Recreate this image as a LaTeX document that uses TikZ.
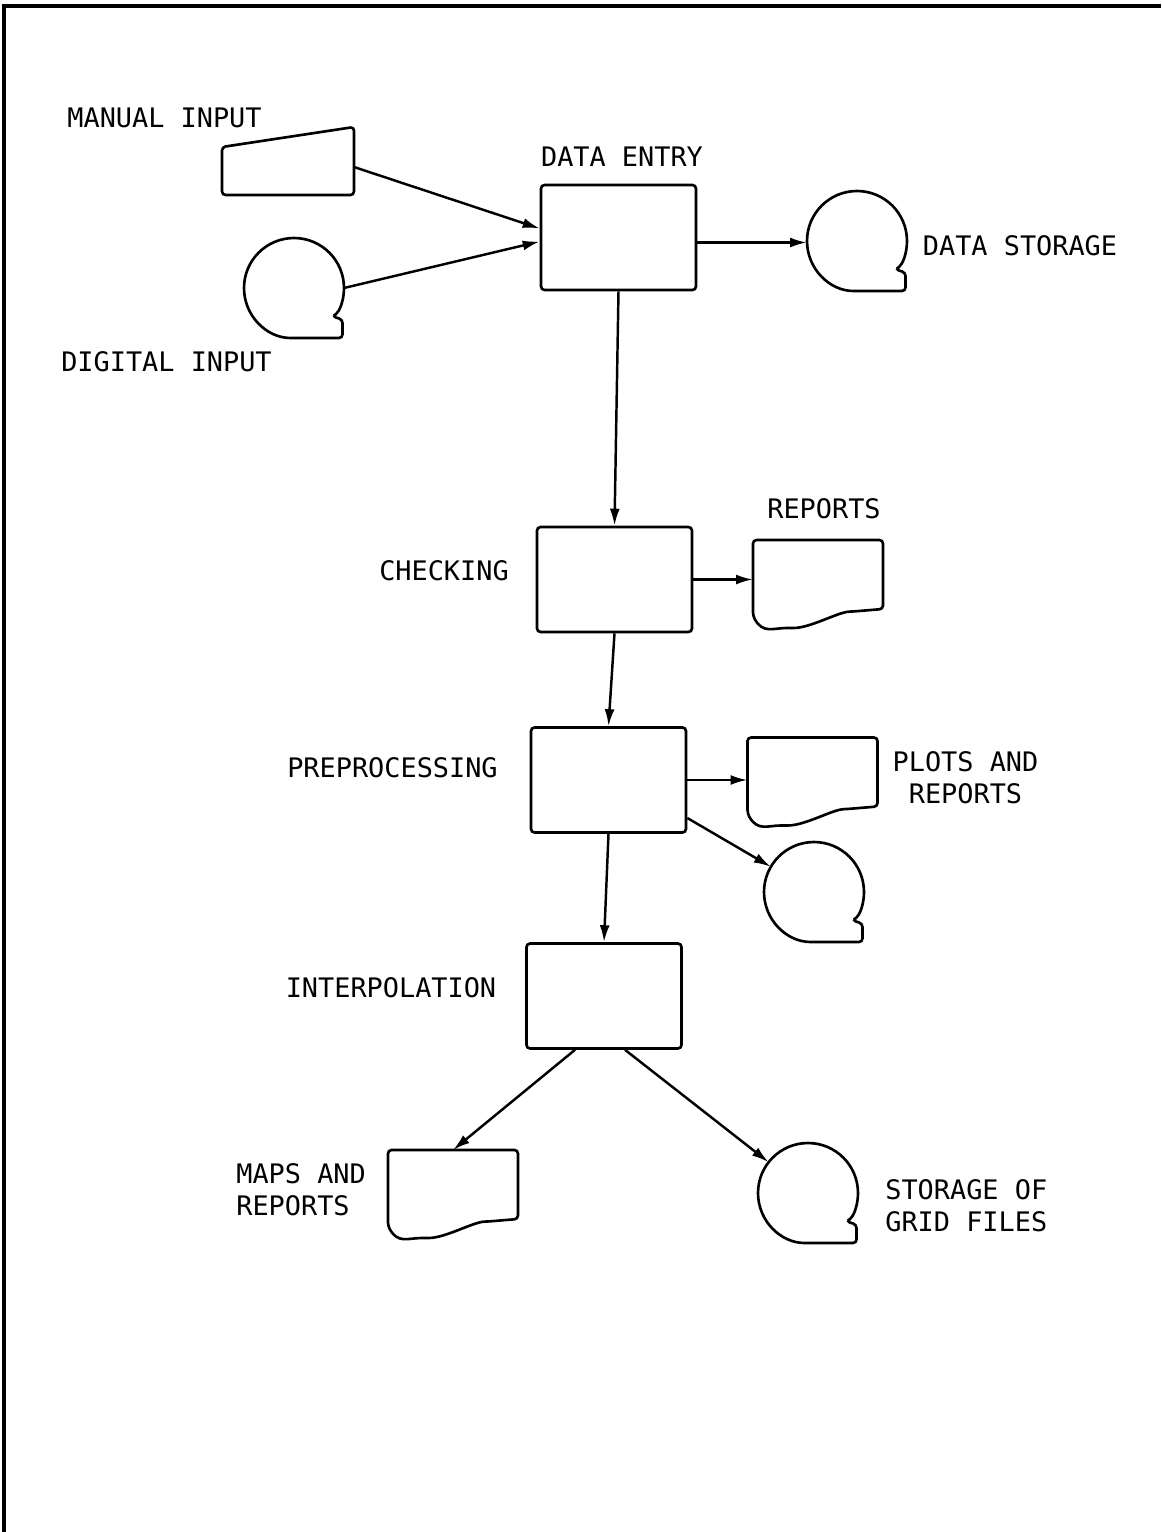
\documentclass[tikz,border=0pt]{standalone}
\usepackage{fontspec}
\setmonofont{DejaVu Sans Mono}
\usetikzlibrary{arrows.meta}

% outlines drawn round the named (invisible) nodes
\newcommand{\tapeline}[1]{%
  \draw[outline] (#1.south) arc[start angle=270, end angle=-31, radius=1cm]
    -- ([shift={(0.77cm,-0.57cm)}]#1.center)
    -- ([shift={(0.97cm,-0.63cm)}]#1.center)
    -- ([shift={(0.97cm,-1cm)}]#1.center) -- cycle;}
\newcommand{\docline}[1]{%
  \draw[outline] (#1.north east) -- (#1.north west)
    -- ([yshift=0.24cm]#1.south west)
    .. controls ([shift={(0.2cm,-0.12cm)}]#1.south west) and ([shift={(0.4cm,0cm)}]#1.south west) .. ([xshift=0.74cm]#1.south west)
    .. controls ([shift={(1.15cm,0cm)}]#1.south west) and ([shift={(1.7cm,0.32cm)}]#1.south west) .. ([shift={(2.0cm,0.33cm)}]#1.south west)
    -- ([yshift=0.38cm]#1.south east) -- cycle;}
\newcommand{\manualline}[1]{%
  \draw[outline] (#1.south west) -- ([yshift=-0.4cm]#1.north west)
    -- (#1.north east) -- (#1.south east) -- cycle;}

\begin{document}
\begin{tikzpicture}[
            x=0.02cm, y=0.02cm,
            outline/.style={line width=1.5pt, rounded corners=2pt},
            box/.style={draw, line width=1.5pt, rounded corners=2pt,
                        minimum width=3.1cm, minimum height=2.1cm, inner sep=0pt},
            tape/.style={circle, minimum size=2cm, inner sep=0pt, outer sep=0pt},
            doc/.style={minimum width=2.6cm, minimum height=1.76cm, inner sep=0pt, outer sep=0pt},
            manualbox/.style={minimum width=2.64cm, minimum height=1.36cm, inner sep=0pt, outer sep=0pt},
            arr/.style={-{Latex[length=3.4mm,width=2mm]}, line width=1.4pt},
            lab/.style={font=\ttfamily\fontsize{15.3}{18.2}\selectfont, inner sep=0pt}
        ]

        \useasboundingbox (0,0) rectangle (1161,-1532);
        \draw[line width=2.2pt] (4,-1532) -- (4,-6) -- (1161,-6);

        % Process boxes
        \node[box] (entry) at (618.5,-237.5) {};
        \node[box] (check) at (614.5,-579.5) {};
        \node[box] (pre) at (608.5,-780) {};
        \node[box] (interp) at (604,-996) {};

        % Inputs and outputs
        \node[manualbox] (manual) at (288,-161) {};
        \manualline{manual}
        \node[tape] (digital) at (294,-288) {};
        \tapeline{digital}
        \node[tape] (store) at (857,-241) {};
        \tapeline{store}
        \node[doc] (reports) at (818,-584) {};
        \docline{reports}
        \node[doc] (plots) at (812.5,-781.5) {};
        \docline{plots}
        \node[tape] (pretape) at (814,-892) {};
        \tapeline{pretape}
        \node[doc] (maps) at (453,-1194) {};
        \docline{maps}
        \node[tape] (grid) at (808,-1193) {};
        \tapeline{grid}

        % Labels
        \node[lab] (manuallab) at (164.5,-118) {MANUAL INPUT};
        \node[lab] (digitallab) at (166.5,-362) {DIGITAL INPUT};
        \node[lab] (entrylab) at (622,-157) {DATA ENTRY};
        \node[lab] (storelab) at (1020,-246) {DATA STORAGE};
        \node[lab] (checklab) at (444,-571) {CHECKING};
        \node[lab] (reportslab) at (824,-509) {REPORTS};
        \node[lab] (prelab) at (392.5,-768) {PREPROCESSING};
        \node[lab, align=center] (plotslab) at (965.5,-778) {PLOTS AND\\REPORTS};
        \node[lab] (interplab) at (391,-988) {INTERPOLATION};
        \node[lab, align=left, anchor=west] (mapslab) at (236,-1190) {MAPS AND\\REPORTS};
        \node[lab, align=left, anchor=west] (gridlab) at (885,-1206) {STORAGE OF\\GRID FILES};

        % Flow
        \draw[arr] ([yshift=-0.12cm]manual.east) -- ([yshift=0.18cm]entry.west);
        \draw[arr] (digital.east) -- ([yshift=-0.08cm]entry.west);
        \draw[arr] ([yshift=-0.1cm]entry.east) -- ([yshift=-0.1cm]entry.east -| store.west);
        \draw[arr] (entry.south) -- (check.north);
        \draw[arr] (check.east) -- (check.east -| reports.west);
        \draw[arr] (check.south) -- (pre.north);
        \draw[arr] (pre.east) -- (pre.east -| plots.west);
        \draw[arr] ([yshift=-0.76cm]pre.east) -- (pretape);
        \draw[arr] (pre.south) -- (interp.north);
        \draw[arr] ([xshift=-0.58cm]interp.south) -- (maps.north);
        \draw[arr] ([xshift=0.42cm]interp.south) -- (grid);

        \end{tikzpicture}
\end{document}
